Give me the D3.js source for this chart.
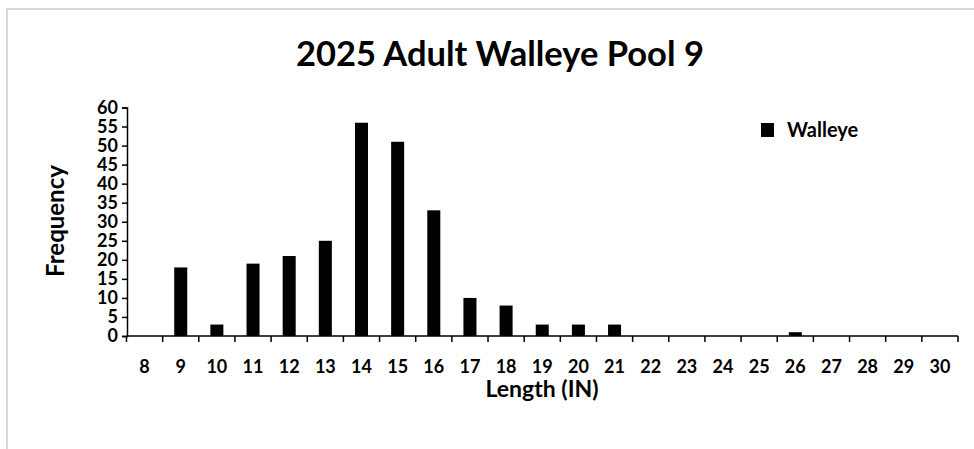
<!DOCTYPE html>
<html>
<head>
<meta charset="utf-8">
<script src="https://cdn.jsdelivr.net/npm/d3@7"></script>
<style>
  body { margin: 0; background: #fff; }
  text { font-family: Lato, "Open Sans", sans-serif; font-weight: bold; fill: #000; }
</style>
</head>
<body>
<div id="chart"></div>
<script>
var width = 974;
var height = 449;

// length classes (inches) and walleye counts
var lengths = ["8", "9", "10", "11", "12", "13", "14", "15", "16", "17", "18", "19",
               "20", "21", "22", "23", "24", "25", "26", "27", "28", "29", "30"];
var counts = [0, 18, 3, 19, 21, 25, 56, 51, 33, 10, 8, 3,
              3, 3, 0, 0, 0, 0, 1, 0, 0, 0, 0];
var yTicks = [0, 5, 10, 15, 20, 25, 30, 35, 40, 45, 50, 55, 60];

var chartTitle = "2025 Adult Walleye Pool 9";
var seriesName = "Walleye";

var margin = { top: 107.5, right: 16, bottom: 113, left: 127 };

var svg = d3
  .select("#chart")
  .append("svg")
  .attr("width", width)
  .attr("height", height);

// chart area border (only top and left visible)
svg.append("rect")
  .attr("x", 7)
  .attr("y", 9)
  .attr("width", 1200)
  .attr("height", 1200)
  .attr("fill", "none")
  .attr("stroke", "#d9d9d9")
  .attr("stroke-width", 2);

var x = d3.scaleBand()
  .domain(lengths)
  .range([margin.left - 0.5, width - margin.right])
  .padding(0);

var xBar = d3.scaleBand()
  .domain(lengths)
  .range(x.range())
  .paddingInner(0.64)
  .paddingOuter(0.32);

var y = d3.scaleLinear()
  .domain([0, 60])
  .range([height - margin.bottom, margin.top]);

// bars
svg.append("g")
  .selectAll("rect")
  .data(counts)
  .enter()
  .append("rect")
  .attr("x", function(d, i) { return xBar(lengths[i]); })
  .attr("y", function(d) { return y(d); })
  .attr("width", xBar.bandwidth())
  .attr("height", function(d) { return y(0) - y(d); })
  .attr("fill", "#000");

// y axis
var yAxis = d3.axisLeft(y)
  .tickValues(yTicks)
  .tickSize(5)
  .tickPadding(4);

var gy = svg.append("g")
  .attr("transform", "translate(" + margin.left + ",0)")
  .call(yAxis);
gy.select(".domain").attr("stroke", "#000").attr("stroke-width", 1.5);
gy.selectAll(".tick line").attr("stroke", "#000").attr("stroke-width", 1.5);
gy.selectAll(".tick text")
  .attr("font-size", 18)
  .attr("font-family", "Lato")
  .attr("font-weight", "bold")
  .attr("fill", "#000");

// x axis: ticks sit between categories
var boundaries = lengths.map(function(c) { return x(c); }).concat([x.range()[1]]);
var gx = svg.append("g");
gx.append("line")
  .attr("x1", x.range()[0])
  .attr("x2", x.range()[1])
  .attr("y1", y(0))
  .attr("y2", y(0))
  .attr("stroke", "#000")
  .attr("stroke-width", 1.5);
gx.selectAll(".xtick")
  .data(boundaries)
  .enter()
  .append("line")
  .attr("class", "xtick")
  .attr("x1", function(d) { return d; })
  .attr("x2", function(d) { return d; })
  .attr("y1", y(0))
  .attr("y2", y(0) + 6)
  .attr("stroke", "#000")
  .attr("stroke-width", 1.5);
gx.selectAll(".xlabel")
  .data(lengths)
  .enter()
  .append("text")
  .attr("class", "xlabel")
  .attr("x", function(d) { return x(d) + x.bandwidth() / 2; })
  .attr("y", 373)
  .attr("text-anchor", "middle")
  .attr("font-size", 18)
  .text(function(d) { return d; });

// titles
svg.append("text")
  .attr("x", 500)
  .attr("y", 66)
  .attr("text-anchor", "middle")
  .attr("font-size", 34.5)
  .text(chartTitle);

svg.append("text")
  .attr("x", 542)
  .attr("y", 397)
  .attr("text-anchor", "middle")
  .attr("font-size", 23)
  .text("Length (IN)");

svg.append("text")
  .attr("transform", "translate(64,221) rotate(-90)")
  .attr("text-anchor", "middle")
  .attr("font-size", 24)
  .text("Frequency");

// legend
var legend = svg.append("g").attr("transform", "translate(761,123)");
legend.append("rect")
  .attr("width", 13)
  .attr("height", 14)
  .attr("fill", "#000");
legend.append("text")
  .attr("x", 26)
  .attr("y", 14)
  .attr("font-size", 20)
  .text(seriesName);
</script>
</body>
</html>
